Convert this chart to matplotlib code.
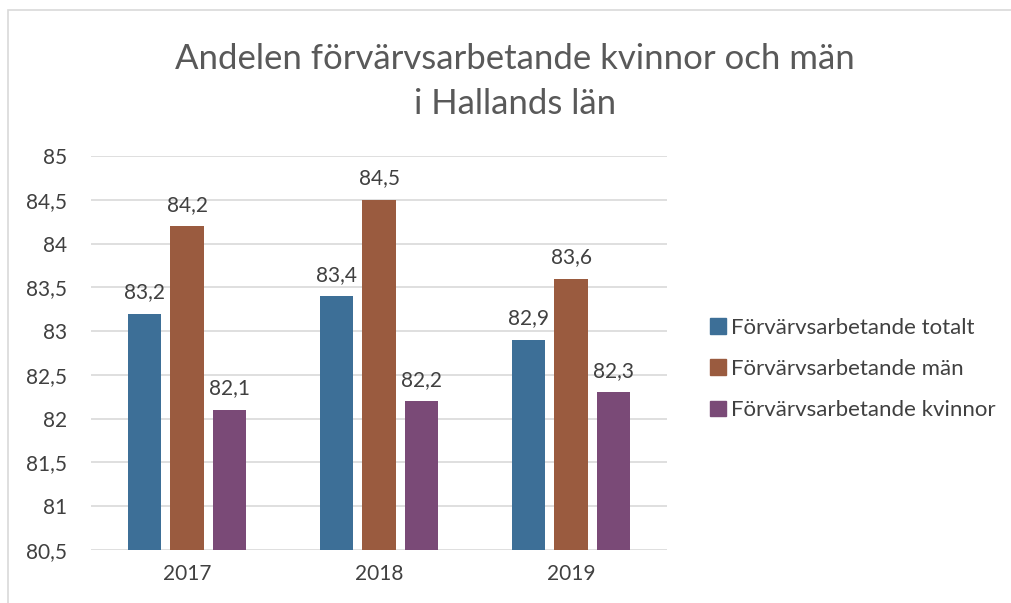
import numpy as np
import matplotlib
matplotlib.use('Agg')
import matplotlib.pyplot as plt
import matplotlib.patches as mpatches

years = ['2017', '2018', '2019']
totalt = [83.2, 83.4, 82.9]
man = [84.2, 84.5, 83.6]
kvinnor = [82.1, 82.2, 82.3]
series_names = ['Förvärvsarbetande totalt', 'Förvärvsarbetande män', 'Förvärvsarbetande kvinnor']
yticks = [80.5, 81, 81.5, 82, 82.5, 83, 83.5, 84, 84.5, 85]

colors = ['#3D6F97', '#9A5B3F', '#7A4A77']
txt = '#404040'
plt.rcParams['font.family'] = ['Lato', 'DejaVu Sans']

W, H = 1011, 603
fig = plt.figure(figsize=(W / 100, H / 100), dpi=100)
fig.patch.set_facecolor('white')

# chart border (runs off the right and bottom edge)
fig.patches.append(mpatches.Rectangle((8 / W, -0.05), 1.2, 1 - 10 / H + 0.05,
                                      transform=fig.transFigure, fill=False,
                                      edgecolor='#D9D9D9', linewidth=1.2))

ax = fig.add_axes([91 / W, 1 - 550 / H, 576 / W, (550 - 156) / H])
x = np.arange(len(years))
bw = 0.172
step = 0.221
for i, (vals, c, name) in enumerate(zip([totalt, man, kvinnor], colors, series_names)):
    pos = x + (i - 1) * step
    ax.bar(pos, np.array(vals) - 80.5, bottom=80.5, width=bw, color=c,
           label=name, zorder=3)
    for p, v in zip(pos, vals):
        ax.text(p, v + 0.13, f'{v:.1f}'.replace('.', ','), ha='center', va='bottom',
                fontsize=15, color=txt)

ax.set_xlim(-0.5, 2.5)
ax.set_ylim(80.5, 85)
ax.set_yticks(yticks)
ax.set_yticklabels([f'{t:g}'.replace('.', ',') for t in yticks], fontsize=15, color=txt)
ax.set_xticks(x)
ax.set_xticklabels(years, fontsize=15, color=txt)
ax.tick_params(length=0, pad=10)
ax.tick_params(axis='y', pad=17)
ax.grid(axis='y', color='#D9D9D9', linewidth=1.2, zorder=0)
for s in ax.spines.values():
    s.set_visible(False)

fig.text(515 / W, 1 - 59 / H, 'Andelen förvärvsarbetande kvinnor och män',
         ha='center', va='center', fontsize=25, color='#595959')
fig.text(515 / W, 1 - 104 / H, 'i Hallands län',
         ha='center', va='center', fontsize=25, color='#595959')

handles = [mpatches.Patch(color=c) for c in colors]
fig.legend(handles, series_names, loc='center left', bbox_to_anchor=(690 / W, 1 - 369 / H),
           frameon=False, fontsize=16, labelcolor=txt, handlelength=0.7, handleheight=0.7,
           handletextpad=0.25, labelspacing=0.95)

fig.savefig('out.png', dpi=100)
